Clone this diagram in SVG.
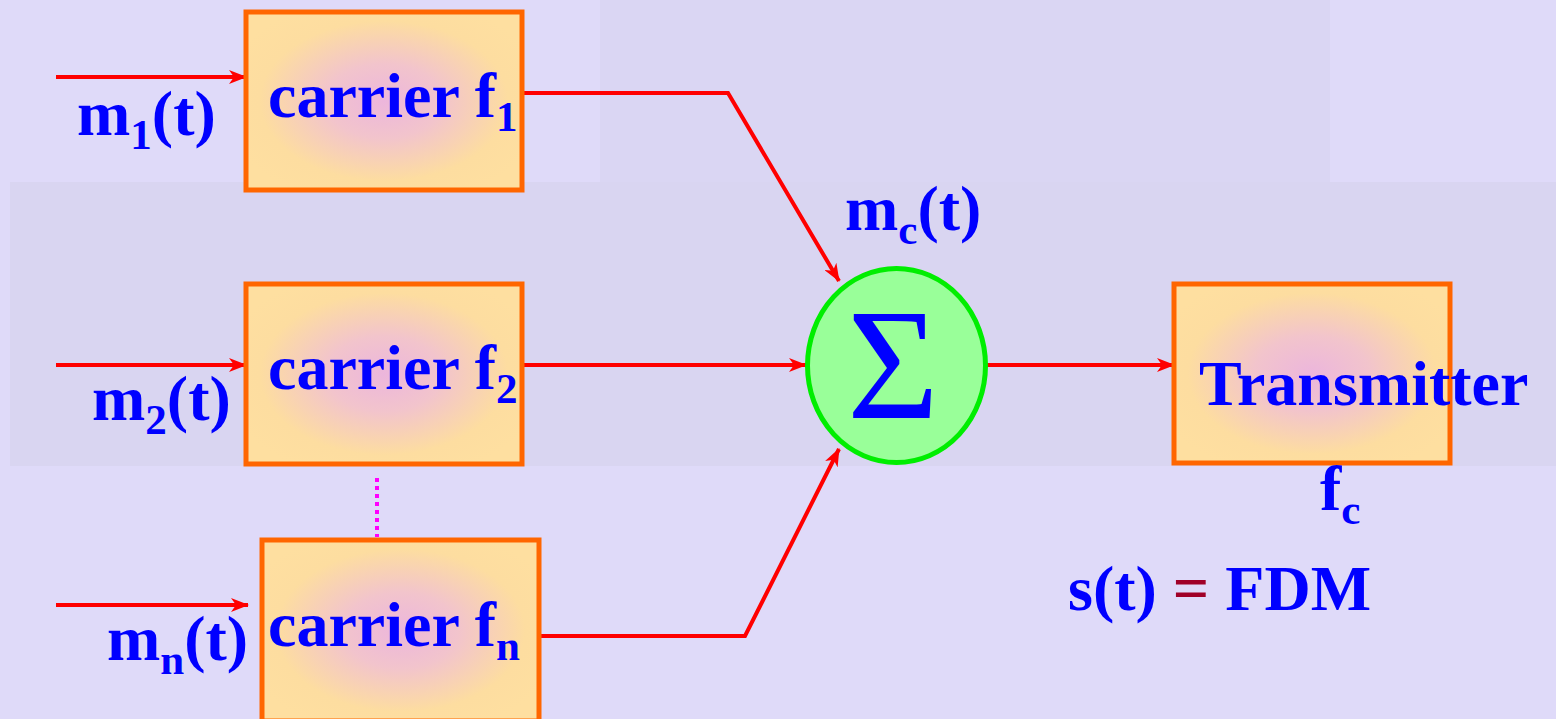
<svg xmlns="http://www.w3.org/2000/svg" width="1556" height="719" viewBox="0 0 1556 719">
<style>
.box{stroke:#FF6600;stroke-width:5;fill:url(#bg1)}
.wire{fill:none;stroke:#FF0000;stroke-width:4}
.t{font-family:"Liberation Serif","Times New Roman",serif;font-weight:bold;fill:#0000FF}
</style>
<defs>
<radialGradient id="bg1" cx="0.5" cy="0.5" r="0.6">
<stop offset="0" stop-color="#ECB6DC"/>
<stop offset="0.35" stop-color="#F2C4CC"/>
<stop offset="0.75" stop-color="#FDDDA0"/>
<stop offset="1" stop-color="#FEDFA0"/>
</radialGradient>
<marker id="ah" viewBox="0 0 18 14" refX="17" refY="7" markerWidth="18" markerHeight="14" markerUnits="userSpaceOnUse" orient="auto">
<path d="M0,0 L18,7 L0,14 L5,7 Z" fill="#FF0000"/>
</marker>
</defs>
<rect width="1556" height="719" fill="#DFDAF9"/>
<rect x="600" y="0" width="730" height="182" fill="#DAD6F3"/>
<rect x="10" y="182" width="1546" height="284" fill="#D9D5F1"/>

<g id="connectors">
<line class="wire" x1="56" y1="77" x2="246" y2="77" marker-end="url(#ah)"/>
<line class="wire" x1="56" y1="365" x2="246" y2="365" marker-end="url(#ah)"/>
<line class="wire" x1="56" y1="605" x2="248" y2="605" marker-end="url(#ah)"/>
<polyline class="wire" points="522,93 728,93 839,281" marker-end="url(#ah)"/>
<line class="wire" x1="522" y1="365" x2="806" y2="365" marker-end="url(#ah)"/>
<polyline class="wire" points="539,636 745,636 839,449" marker-end="url(#ah)"/>
<line class="wire" x1="987" y1="365" x2="1174" y2="365" marker-end="url(#ah)"/>
<line x1="377" y1="478" x2="377" y2="537" stroke="#FF00FF" stroke-width="4" stroke-dasharray="4,4"/>
</g>

<g id="carrier1">
<rect class="box" x="246" y="12" width="276" height="178"/>
<text class="t" x="268" y="117" font-size="64">carrier f<tspan font-size="43" dy="14">1</tspan></text>
</g>
<g id="carrier2">
<rect class="box" x="246" y="284" width="276" height="180"/>
<text class="t" x="268" y="389" font-size="64">carrier f<tspan font-size="43" dy="14">2</tspan></text>
</g>
<g id="carriern">
<rect class="box" x="262" y="540" width="277" height="181"/>
<text class="t" x="268" y="646" font-size="64">carrier f<tspan font-size="43" dy="14">n</tspan></text>
</g>
<g id="sum">
<ellipse cx="896.5" cy="365.5" rx="89" ry="97" fill="#99FF99" stroke="#00EE00" stroke-width="5"/>
<text x="893" y="418" font-family="Liberation Serif,'Times New Roman',serif" font-size="158" fill="#0000FF" text-anchor="middle">Σ</text>
</g>
<g id="transmitter">
<rect class="box" x="1174" y="284" width="276" height="179"/>
<text class="t" x="1199" y="405" font-size="64">Transmitter</text>
</g>

<g id="labels">
<text class="t" x="77" y="135" font-size="64">m<tspan font-size="43" dy="14">1</tspan><tspan dy="-14">(t)</tspan></text>
<text class="t" x="92" y="420" font-size="64">m<tspan font-size="43" dy="14">2</tspan><tspan dy="-14">(t)</tspan></text>
<text class="t" x="107" y="660" font-size="64">m<tspan font-size="43" dy="14">n</tspan><tspan dy="-14">(t)</tspan></text>
<text class="t" x="845" y="230" font-size="64">m<tspan font-size="43" dy="14">c</tspan><tspan dy="-14">(t)</tspan></text>
<text class="t" x="1320" y="510" font-size="64">f<tspan font-size="43" dy="14">c</tspan></text>
<text class="t" x="1068" y="610" font-size="64">s(t) <tspan fill="#A00028">=</tspan> FDM</text>
</g>
</svg>
